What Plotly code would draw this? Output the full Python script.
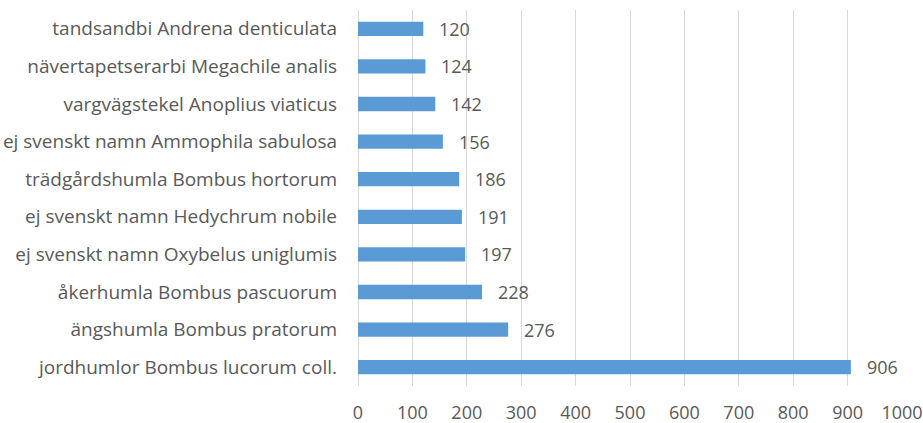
import plotly.graph_objects as go

# Species, listed bottom to top as drawn on the category axis
species = [
    "jordhumlor Bombus lucorum coll.",
    "ängshumla Bombus pratorum",
    "åkerhumla Bombus pascuorum",
    "ej svenskt namn Oxybelus uniglumis",
    "ej svenskt namn Hedychrum nobile",
    "trädgårdshumla Bombus hortorum",
    "ej svenskt namn Ammophila sabulosa",
    "vargvägstekel Anoplius viaticus",
    "nävertapetserarbi Megachile analis",
    "tandsandbi Andrena denticulata",
]
counts = [906, 276, 228, 197, 191, 186, 156, 142, 124, 120]
x_ticks = list(range(0, 1001, 100))

text_color = "#595959"
grid_color = "#d9d9d9"
bar_color = "#5b9bd5"
font_family = "Open Sans"
font_size = 18

fig = go.Figure(
    go.Bar(
        x=counts,
        y=species,
        orientation="h",
        marker=dict(color=bar_color, line=dict(width=0)),
        width=0.38,
        hoverinfo="x+y",
    )
)

# value labels just past the end of each bar
for v, s in zip(counts, species):
    fig.add_annotation(
        x=v,
        y=s,
        text=str(v),
        showarrow=False,
        xanchor="left",
        yanchor="middle",
        xshift=14,
        font=dict(family=font_family, size=font_size, color=text_color),
    )

fig.update_layout(
    width=923,
    height=423,
    margin=dict(l=358, r=21, t=10, b=37, autoexpand=False),
    paper_bgcolor="white",
    plot_bgcolor="white",
    showlegend=False,
    font=dict(family=font_family, size=font_size, color=text_color),
    xaxis=dict(
        range=[0, 1000],
        tickvals=x_ticks,
        ticktext=[str(t) for t in x_ticks],
        showgrid=True,
        gridcolor=grid_color,
        gridwidth=1,
        zeroline=True,
        zerolinecolor=grid_color,
        zerolinewidth=1,
        showline=False,
        ticks="",
        automargin=False,
        ticklabelstandoff=14,
        tickfont=dict(family=font_family, size=font_size, color=text_color),
    ),
    yaxis=dict(
        categoryorder="array",
        categoryarray=species,
        showgrid=False,
        zeroline=False,
        showline=False,
        ticks="",
        automargin=False,
        ticklabelstandoff=20,
        tickfont=dict(family=font_family, size=19, color=text_color),
    ),
)

fig.write_html("out.html")
